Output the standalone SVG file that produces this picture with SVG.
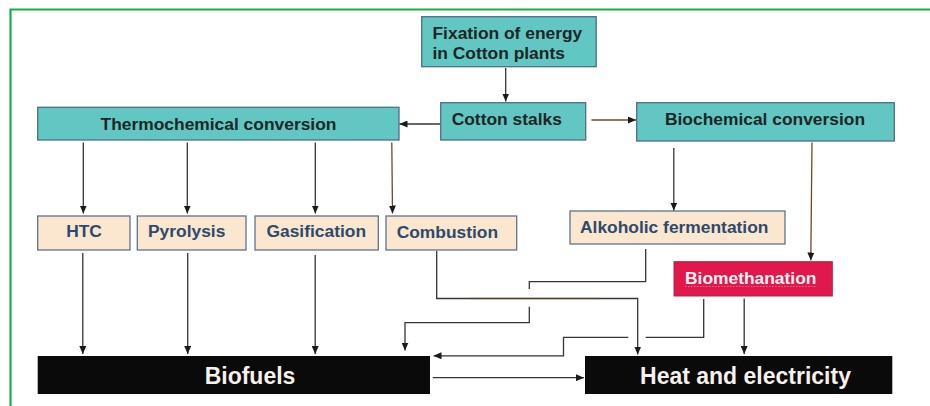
<svg xmlns="http://www.w3.org/2000/svg" width="930" height="406" viewBox="0 0 930 406">
  <style>
    text { font-family: "Liberation Sans", Arial, sans-serif; font-weight: bold; }
    .teal { fill: #62c6c2; stroke: #4d6f86; stroke-width: 1.3; }
    .peach { fill: #fbe6d0; stroke: #5f7390; stroke-width: 1.3; }
    .red { fill: #e0184c; stroke: #a32a45; stroke-width: 1; }
    .dark { fill: #0b0a0a; }
    .tt { font-size: 17.4px; fill: #1c2626; }
    .pt { font-size: 17.4px; fill: #2d4a6c; }
    .wt { font-size: 17.4px; fill: #fdf3f4; }
    .bt { font-size: 23px; fill: #f6f1ea; }
    .ln { fill: none; stroke: #353535; stroke-width: 1.3; }
    .lo { fill: none; stroke: #6e4a28; stroke-width: 1.3; }
  </style>
  <defs>
    <marker id="ah" markerUnits="userSpaceOnUse" markerWidth="8" markerHeight="7" refX="8" refY="3.5" orient="auto">
      <path d="M0,0 L8,3.5 L0,7 Z" fill="#1a1a1a"/>
    </marker>
  </defs>

  <rect width="930" height="406" fill="#ffffff"/>
  <!-- frame -->
  <path d="M10.5,406 V9.5 H930" fill="none" stroke="#1dab4a" stroke-width="2.2"/>

  <g id="fixation">
    <rect class="teal" x="421.7" y="16.7" width="174.5" height="50"/>
    <text class="tt" x="432.5" y="38.5">Fixation of energy</text>
    <text class="tt" x="432.5" y="58.5">in Cotton plants</text>
  </g>
  <g id="cotton-stalks">
    <rect class="teal" x="440.7" y="102.7" width="145" height="37.3"/>
    <text class="tt" x="451.7" y="124.5">Cotton stalks</text>
  </g>
  <g id="thermochemical">
    <rect class="teal" x="37.7" y="107.3" width="361.3" height="32.7"/>
    <text class="tt" x="218.5" y="129.5" text-anchor="middle">Thermochemical conversion</text>
  </g>
  <g id="biochemical">
    <rect class="teal" x="636.7" y="102.7" width="257.6" height="38.3"/>
    <text class="tt" x="765" y="124.5" text-anchor="middle">Biochemical conversion</text>
  </g>

  <g id="htc">
    <rect class="peach" x="37.7" y="216" width="92.3" height="34"/>
    <text class="pt" x="84" y="237" text-anchor="middle">HTC</text>
  </g>
  <g id="pyrolysis">
    <rect class="peach" x="137.3" y="216" width="108.7" height="34"/>
    <text class="pt" x="148" y="237">Pyrolysis</text>
  </g>
  <g id="gasification">
    <rect class="peach" x="255" y="216" width="123.3" height="34"/>
    <text class="pt" x="266.5" y="237">Gasification</text>
  </g>
  <g id="combustion">
    <rect class="peach" x="386" y="216" width="130.7" height="34"/>
    <text class="pt" x="396.7" y="238">Combustion</text>
  </g>
  <g id="alcoholic-fermentation">
    <rect class="peach" x="570" y="211" width="215" height="33"/>
    <text class="pt" x="580" y="232.5">Alkoholic fermentation</text>
  </g>
  <g id="biomethanation">
    <rect class="red" x="674" y="261.7" width="158.3" height="34.3"/>
    <text class="wt" x="685" y="284">Biomethanation</text>
    <path d="M685,286.5 H817" fill="none" stroke="#ff6f7e" stroke-width="0.9" stroke-dasharray="1.5 1.5"/>
  </g>

  <g id="biofuels">
    <rect class="dark" x="37.7" y="356" width="392.3" height="38"/>
    <text class="bt" x="250" y="383.5" text-anchor="middle">Biofuels</text>
  </g>
  <g id="heat-electricity">
    <rect class="dark" x="585" y="356" width="307.3" height="38"/>
    <text class="bt" x="745.5" y="383.5" text-anchor="middle">Heat and electricity</text>
  </g>

  <g id="connectors">
    <path class="ln" d="M505.7,68 V101.5" marker-end="url(#ah)"/>
    <path class="ln" d="M440,124 H399.5" marker-end="url(#ah)"/>
    <path class="lo" d="M591.5,120 H636" marker-end="url(#ah)"/>

    <path class="ln" d="M83.3,142.5 V213.5" marker-end="url(#ah)"/>
    <path class="ln" d="M187.3,142.5 V213.5" marker-end="url(#ah)"/>
    <path class="ln" d="M315.3,142.5 V213.5" marker-end="url(#ah)"/>
    <path class="lo" d="M391.8,142.5 L392.5,213.5" marker-end="url(#ah)"/>

    <path class="ln" d="M673.8,148 V210.5" marker-end="url(#ah)"/>
    <path class="lo" d="M812,142.5 L810.8,260.5" marker-end="url(#ah)"/>

    <path class="ln" d="M82.8,253 V354" marker-end="url(#ah)"/>
    <path class="ln" d="M187.7,253 V354" marker-end="url(#ah)"/>
    <path class="ln" d="M315.2,255 V354" marker-end="url(#ah)"/>

    <path class="ln" d="M436.7,251 V298.5 H637.7 V354.5" marker-end="url(#ah)"/>
    <path class="lo" d="M470,298.5 H600" stroke-opacity="0.55"/>

    <path class="ln" d="M645.7,249 V281.7 H529.3 V289"/>
    <path class="ln" d="M529.3,306.7 V322.7 H405 V350.5" marker-end="url(#ah)"/>

    <path class="ln" d="M703.7,299 V337.3 H645.7"/>
    <path class="ln" d="M628.3,337.3 H563.5 V355.8 H433.5" marker-end="url(#ah)"/>

    <path class="ln" d="M744.2,298.5 V354" marker-end="url(#ah)"/>
    <path class="ln" d="M432.7,377.7 H584" marker-end="url(#ah)"/>
  </g>
</svg>
